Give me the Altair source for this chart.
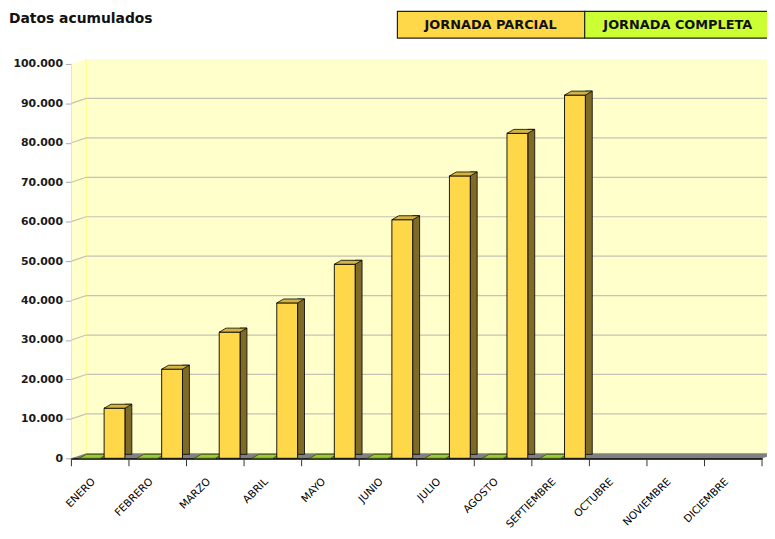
import altair as alt
import pandas as pd

# ---------------- data ----------------
months = ["ENERO", "FEBRERO", "MARZO", "ABRIL", "MAYO", "JUNIO", "JULIO",
          "AGOSTO", "SEPTIEMBRE", "OCTUBRE", "NOVIEMBRE", "DICIEMBRE"]
parcial = [12700, 22600, 32000, 39400, 49200, 60500, 71600, 82400, 92100,
           None, None, None]
completa = [0, 0, 0, 0, 0, 0, 0, 0, 0, None, None, None]
yticks = [0, 10000, 20000, 30000, 40000, 50000, 60000, 70000, 80000, 90000, 100000]
gridvals = [10000, 20000, 30000, 40000, 50000, 60000, 70000, 80000, 90000]
series = ["JORNADA PARCIAL", "JORNADA COMPLETA"]
title_text = "Datos  acumulados"

# ---------------- layout ----------------
W, H = 697, 398
BAND = W / 12
DX, DY = 15, 5          # wall depth
FONT = "DejaVu Sans"

YELLOW = "#FFD84A"
YTOP = "#D4B440"
YSIDE = "#7F6B28"
GREEN = "#99CC33"
LGREEN = "#CCFF33"
WALL = "#FFFFCC"

df = pd.DataFrame({"mes": months, "parcial": parcial, "completa": completa})
grid_df = pd.DataFrame({"v": gridvals})
one = pd.DataFrame({"k": [0]})

xscale = alt.Scale(domain=months, paddingInner=0, paddingOuter=0)
xaxis = alt.Axis(title=None, labelAngle=-45, labelAlign="right", labelBaseline="top",
                 labelPadding=18, labelOffset=-10, ticks=False, domainColor="#000",
                 domainWidth=2, labelFont=FONT, labelFontSize=10.5, labelColor="#000",
                 grid=False)
yscale = alt.Scale(domain=[0, 100000], nice=False)
yaxis = alt.Axis(title=None, values=yticks,
                 labelExpr="replace(format(datum.value, ','), ',', '.')",
                 grid=False, domainColor="#A8A8A8", tickColor="#A8A8A8", tickSize=6,
                 labelPadding=3, labelFont=FONT, labelFontSize=11, labelFontWeight="bold",
                 labelColor="#1a1a1a")


def X():
    return alt.X("mes:N", sort=months, scale=xscale, axis=xaxis)


def Y(f):
    return alt.Y(f"{f}:Q", scale=yscale, axis=yaxis)


def shape_layer(path, color, stroke=None):
    kw = dict(shape=path, size=4, filled=True, fill=color, opacity=1)
    if stroke:
        kw.update(stroke=stroke, strokeWidth=1)
    else:
        kw.update(strokeWidth=0)
    return alt.Chart(one).mark_point(**kw).encode(x=alt.value(0), y=alt.value(0))


# walls and floor
back_wall = shape_layer(f"M{DX},{-DY}L{W+DX},{-DY}L{W+DX},{H-DY}L{DX},{H-DY}Z", WALL)
left_wall = shape_layer(f"M0,0L{DX},{-DY}L{DX},{H-DY}L0,{H}Z", WALL)
floor = shape_layer(f"M0,{H}L{W},{H}L{W+DX},{H-DY}L{DX},{H-DY}Z", "#808080")
corner = alt.Chart(one).mark_rule(color="#FFFF99", strokeWidth=1.5).encode(
    x=alt.value(DX), y=alt.value(-DY), y2=alt.value(H - DY))

grid_back = alt.Chart(grid_df).mark_rule(color="#C4C4B4", strokeWidth=1.2, yOffset=-DY).encode(
    y=Y("v"), x=alt.value(DX), x2=alt.value(W + DX))
grid_left = alt.Chart(grid_df).mark_rule(color="#C4C4B4", strokeWidth=1.2, y2Offset=-DY).encode(
    y=Y("v"), y2="v:Q", x=alt.value(0), x2=alt.value(DX))

# x ticks at band boundaries
xticks = alt.Chart(df).mark_rule(color="#333", strokeWidth=1, xOffset=-BAND / 2).encode(
    x=X(), y=alt.value(H), y2=alt.value(H + 8))
xtick_end = alt.Chart(df).transform_filter(alt.datum.mes == months[-1]).mark_rule(
    color="#333", strokeWidth=1, xOffset=BAND / 2).encode(
    x=X(), y=alt.value(H), y2=alt.value(H + 8))

TOP = "M0,0L21,0L28,-4L7,-4Z"
green = alt.Chart(df).mark_point(shape=TOP, size=4, filled=True, fill=GREEN, opacity=1,
                                 stroke="#3A4A10", strokeWidth=0.8,
                                 xOffset=8 - BAND / 2).encode(x=X(), y=Y("completa"))
side = alt.Chart(df).mark_bar(width=7, xOffset=57.5 - BAND / 2, yOffset=-4, y2Offset=-2,
                              fill=YSIDE, stroke="#000", strokeWidth=0.8).encode(
    x=X(), y=Y("parcial"))
front = alt.Chart(df).mark_bar(width=21, xOffset=43.5 - BAND / 2, fill=YELLOW,
                               stroke="#000", strokeWidth=0.9).encode(
    x=X(), y=Y("parcial"))
top = alt.Chart(df).mark_point(shape=TOP, size=4, filled=True, fill=YTOP, opacity=1,
                               stroke="#000", strokeWidth=0.8,
                               xOffset=33 - BAND / 2).encode(x=X(), y=Y("parcial"))

# legend boxes
leg1 = alt.Chart(one).mark_rect(fill=YELLOW, stroke="#222", strokeWidth=1.2).encode(
    x=alt.value(329), x2=alt.value(518), y=alt.value(-53), y2=alt.value(-26))
leg2 = alt.Chart(one).mark_rect(fill=LGREEN, stroke="#222", strokeWidth=1.2).encode(
    x=alt.value(518), x2=alt.value(712), y=alt.value(-53), y2=alt.value(-26))
legt1 = alt.Chart(one).mark_text(text=series[0], font=FONT, fontSize=13, fontWeight="bold",
                                 color="#111", align="center", baseline="middle").encode(
    x=alt.value(423), y=alt.value(-39))
legt2 = alt.Chart(one).mark_text(text=series[1], font=FONT, fontSize=13, fontWeight="bold",
                                 color="#111", align="center", baseline="middle").encode(
    x=alt.value(612), y=alt.value(-39))

title = alt.Chart(one).mark_text(text=title_text, font=FONT, fontSize=14, fontWeight="bold",
                                 color="#111", align="left", baseline="alphabetic").encode(
    x=alt.value(-63), y=alt.value(-41))

chart = alt.layer(
    back_wall, left_wall, floor, corner, grid_back, grid_left,
    xticks, xtick_end, green, side, front, top,
    leg1, leg2, legt1, legt2, title,
).properties(
    width=W, height=H,
    autosize=alt.AutoSizeParams(type="none"),
    padding={"left": 64, "top": 54, "right": 5, "bottom": 79},
).configure_view(stroke=None).configure(background="white")

chart.save("out.html", embed_options={"renderer": "svg", "actions": False})
